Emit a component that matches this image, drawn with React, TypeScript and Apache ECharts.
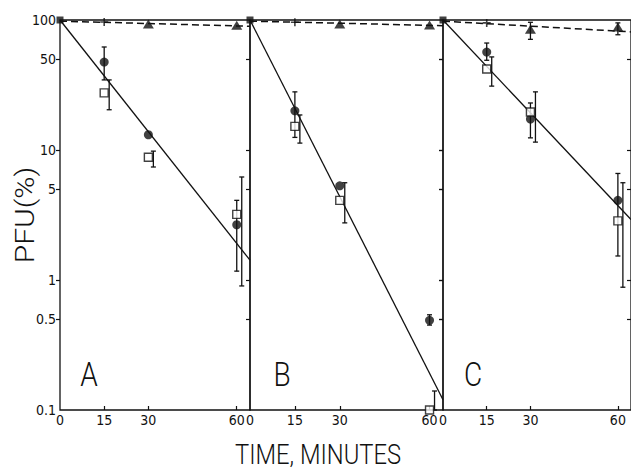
import React, { useEffect, useRef } from "react";
import * as echarts from "echarts";

// ---- data ----
const TIMES = [15, 30, 60];
const TRI_TIMES = [30, 60];
const PLUS_TIME = 15;
const X_MAX = 64.5;
const X_TICKS = [0, 15, 30, 60];
const Y_TICKS = [0.1, 0.5, 1, 5, 10, 50, 100];
const Y_TICK_LABELS = ["0.1", "0.5", "1", "5", "10", "50", "100"];
const PANEL_LETTERS = ["A", "B", "C"];

// Panel A
const circlesA = [47.5, 13.1, 2.66];
const circleErrA = [[34.6, 62], null, [1.17, 4.1]];
const squaresA = [27.5, 8.8, 3.2];
const squareErrA = [[20.4, 34.6], [7.4, 9.8], [0.9, 6.2]];
const trianglesA = [93, 91];
const triangleErrA = [null, null];
const plusA = 96.5;
const fitA = [[0, 100], [64.5, 1.42]];
const dashA = [[0, 98], [64.5, 89.5]];

// Panel B
const circlesB = [20, 5.3, 0.49];
const circleErrB = [[12.5, 28], null, [0.45, 0.54]];
const squaresB = [15.2, 4.1, 0.1];
const squareErrB = [[11.3, 18.6], [2.75, 5.6], [0.1, 0.14]];
const trianglesB = [93, 91.5];
const triangleErrB = [null, null];
const plusB = 96;
const fitB = [[0, 100], [64.5, 0.12]];
const dashB = [[0, 98], [64.5, 90.5]];

// Panel C
const circlesC = [56.7, 17.3, 4.1];
const circleErrC = [[49, 66.5], [12.4, 23], [1.53, 6.6]];
const squaresC = [42, 19.6, 2.85];
const squareErrC = [[31, 52], [11.5, 28], [0.88, 5.6]];
const trianglesC = [85, 88.4];
const triangleErrC = [[71, 96], [77, 95]];
const plusC = 95;
const fitC = [[0, 100], [64.5, 2.92]];
const dashC = [[0, 98], [64.5, 81]];

const PANELS = [
  { circles: circlesA, circleErr: circleErrA, squares: squaresA, squareErr: squareErrA, tri: trianglesA, triErr: triangleErrA, plus: plusA, fit: fitA, dash: dashA },
  { circles: circlesB, circleErr: circleErrB, squares: squaresB, squareErr: squareErrB, tri: trianglesB, triErr: triangleErrB, plus: plusB, fit: fitB, dash: dashB },
  { circles: circlesC, circleErr: circleErrC, squares: squaresC, squareErr: squareErrC, tri: trianglesC, triErr: triangleErrC, plus: plusC, fit: fitC, dash: dashC },
];

// ---- layout/style ----
const GRID_LEFTS = [60, 250, 443];
const GRID_WIDTHS = [190, 193, 193];
const GRID_TOP = 20;
const GRID_HEIGHT = 390;
const FONT = "'DejaVu Sans Condensed', 'Liberation Sans Narrow', 'DejaVu Sans', sans-serif";
const BIG_FONT = "Roboto, 'DejaVu Sans', sans-serif";
const INK = "#111";

function errSeries(gi: number, times: number[], errs: any[], offset: number) {
  const data: any[] = [];
  times.forEach((t, i) => {
    const e = errs[i];
    if (e) data.push([t, e[0], e[1]]);
  });
  return {
    type: "custom",
    xAxisIndex: gi,
    yAxisIndex: gi,
    clip: false,
    z: 3,
    encode: { x: 0, y: [1, 2] },
    data,
    renderItem: (params: any, api: any) => {
      const x = api.value(0);
      const p1 = api.coord([x, api.value(1)]);
      const p2 = api.coord([x, api.value(2)]);
      const cx = p1[0] + offset;
      const cap = 2.5;
      const st = { stroke: INK, lineWidth: 1.3 };
      return {
        type: "group",
        children: [
          { type: "line", shape: { x1: cx, y1: p1[1], x2: cx, y2: p2[1] }, style: st },
          { type: "line", shape: { x1: cx - cap, y1: p1[1], x2: cx + cap, y2: p1[1] }, style: st },
          { type: "line", shape: { x1: cx - cap, y1: p2[1], x2: cx + cap, y2: p2[1] }, style: st },
        ],
      };
    },
  };
}

export default function App() {
  const ref = useRef<HTMLDivElement>(null);
  useEffect(() => {
    document.body.style.margin = "0";
    const chart = echarts.init(ref.current!, null, { renderer: "svg" });
    const grids: any[] = [];
    const xAxes: any[] = [];
    const yAxes: any[] = [];
    const series: any[] = [];
    PANELS.forEach((p, gi) => {
      grids.push({
        left: GRID_LEFTS[gi],
        top: GRID_TOP,
        width: GRID_WIDTHS[gi],
        height: GRID_HEIGHT,
        show: true,
        borderColor: INK,
        borderWidth: 1.3,
        backgroundColor: "transparent",
      });
      xAxes.push({
        type: "value",
        gridIndex: gi,
        min: 0,
        max: X_MAX,
        axisLine: { show: false },
        splitLine: { show: false },
        axisTick: { show: true, inside: true, length: 4, customValues: X_TICKS.slice(1), lineStyle: { color: INK, width: 1.2 } },
        axisLabel: { customValues: X_TICKS, color: INK, fontSize: 14, fontFamily: FONT, margin: 3, showMaxLabel: true },
      });
      yAxes.push({
        type: "log",
        logBase: 10,
        gridIndex: gi,
        min: 0.1,
        max: 100,
        axisLine: { show: false },
        splitLine: { show: false },
        axisTick: { show: true, inside: false, length: 4, customValues: [0.5, 1, 5, 10, 50], lineStyle: { color: INK, width: 1.2 } },
        axisLabel: {
          show: gi === 0,
          customValues: Y_TICKS,
          color: INK,
          fontSize: 14,
          fontFamily: FONT,
          margin: 4,
          formatter: (v: number) => {
            const idx = Y_TICKS.findIndex((t) => Math.abs(t - v) < 1e-6 * t);
            return idx >= 0 ? Y_TICK_LABELS[idx] : "";
          },
        },
      });
      series.push({
        type: "line",
        xAxisIndex: gi,
        yAxisIndex: gi,
        data: p.fit,
        symbol: "none",
        lineStyle: { color: INK, width: 1.3 },
        z: 2,
      });
      series.push({
        type: "line",
        xAxisIndex: gi,
        yAxisIndex: gi,
        data: p.dash,
        symbol: "none",
        lineStyle: { color: INK, width: 1.5, type: [7, 4] },
        z: 2,
      });
      series.push(errSeries(gi, TIMES, p.circleErr, 0));
      series.push(errSeries(gi, TIMES, p.squareErr, 5));
      series.push(errSeries(gi, TRI_TIMES, p.triErr, 0));
      series.push({
        type: "scatter",
        xAxisIndex: gi,
        yAxisIndex: gi,
        clip: false,
        z: 4,
        symbol: "rect",
        symbolSize: 7,
        itemStyle: { color: INK },
        data: [[0, 100]],
      });
      series.push({
        type: "scatter",
        xAxisIndex: gi,
        yAxisIndex: gi,
        clip: false,
        z: 4,
        symbol: "circle",
        symbolSize: 9,
        itemStyle: { color: INK },
        data: TIMES.map((t, i) => [t, p.circles[i]]),
      });
      series.push({
        type: "scatter",
        xAxisIndex: gi,
        yAxisIndex: gi,
        clip: false,
        z: 5,
        symbol: "rect",
        symbolSize: 8,
        itemStyle: { color: "#fff", borderColor: INK, borderWidth: 1.4 },
        data: TIMES.map((t, i) => [t, p.squares[i]]),
      });
      series.push({
        type: "scatter",
        xAxisIndex: gi,
        yAxisIndex: gi,
        clip: false,
        z: 4,
        symbol: "triangle",
        symbolSize: [11, 9],
        itemStyle: { color: INK },
        data: TRI_TIMES.map((t, i) => [t, p.tri[i]]),
      });
      series.push({
        type: "scatter",
        xAxisIndex: gi,
        yAxisIndex: gi,
        clip: false,
        z: 4,
        symbol: "path://M4,0H6V4H10V6H6V10H4V6H0V4H4Z",
        symbolSize: 8,
        itemStyle: { color: INK },
        data: [[PLUS_TIME, p.plus]],
      });
    });
    [1, 2].forEach((gi) => {
      yAxes.push({
        type: "log",
        logBase: 10,
        gridIndex: gi,
        min: 0.1,
        max: 100,
        axisLine: { show: false },
        splitLine: { show: false },
        axisTick: { show: true, inside: true, length: 4, customValues: [0.5, 1, 5, 10, 50], lineStyle: { color: INK, width: 1.2 } },
        axisLabel: { show: false },
      });
    });
    const graphic: any[] = [
      {
        type: "text",
        x: 25,
        y: 215,
        rotation: Math.PI / 2,
        scaleY: 0.85,
        style: { text: "PFU(%)", fontSize: 30, fontFamily: BIG_FONT, fontWeight: 300, fill: INK, align: "center", verticalAlign: "middle" },
      },
      {
        type: "text",
        x: 318,
        y: 454,
        scaleX: 0.88,
        style: { text: "TIME, MINUTES", fontSize: 27, fontFamily: BIG_FONT, fontWeight: 300, fill: INK, align: "center", verticalAlign: "middle" },
      },
    ];
    PANEL_LETTERS.forEach((L, i) => {
      graphic.push({
        type: "text",
        x: [89, 282, 473][i],
        y: 375,
        scaleX: 0.85,
        style: { text: L, fontSize: 33, fontFamily: BIG_FONT, fontWeight: 300, fill: INK, align: "center", verticalAlign: "middle" },
      });
    });
    chart.setOption({
      animation: false,
      backgroundColor: "#fff",
      grid: grids,
      xAxis: xAxes,
      yAxis: yAxes,
      series,
      graphic,
    });
    return () => chart.dispose();
  }, []);
  return <div ref={ref} style={{ width: 631, height: 473, position: "absolute", left: 0, top: 0 }} />;
}
